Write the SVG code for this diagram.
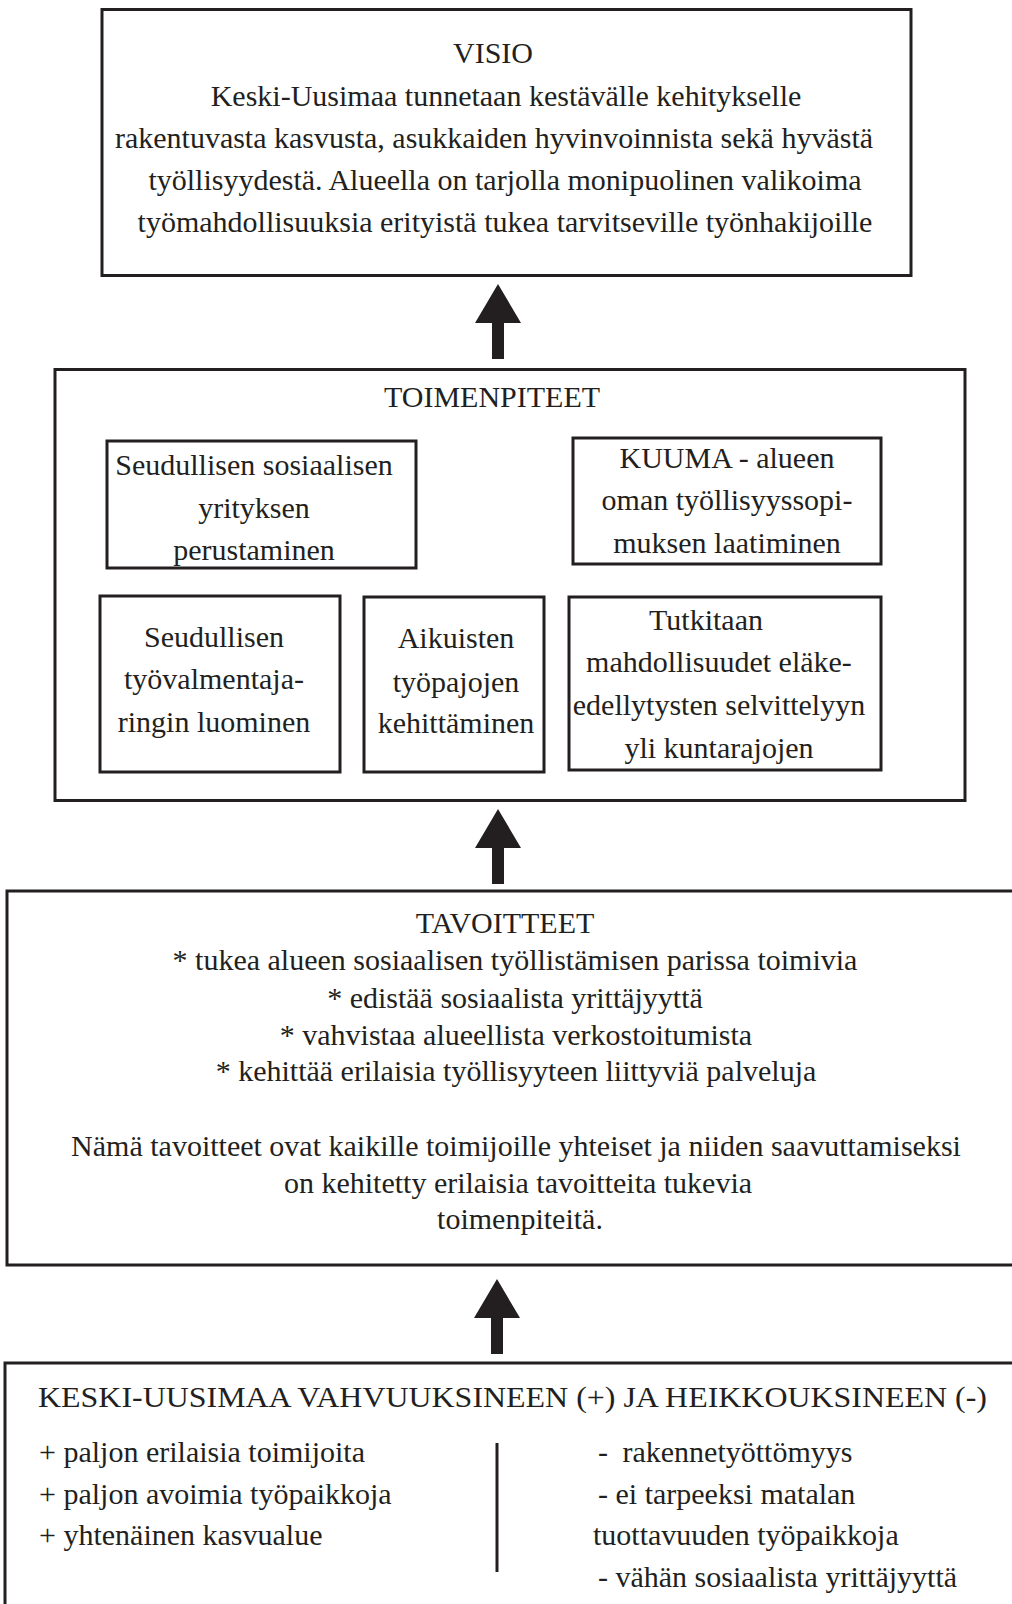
<svg xmlns="http://www.w3.org/2000/svg" xmlns:xlink="http://www.w3.org/1999/xlink" width="1012" height="1604" viewBox="0 0 1012 1604">
<defs>
<style>
.box{fill:none;stroke:#231f20;stroke-width:3}
.t{font-family:"Liberation Serif","Times New Roman",serif;font-size:30px;fill:#231f20;text-anchor:middle}
.l{font-family:"Liberation Serif","Times New Roman",serif;font-size:30px;fill:#231f20;text-anchor:start}
.arr{fill:#231f20}
</style>
<path id="arrow" d="M0,0 L23,39 L6,39 L6,75 L-6,75 L-6,39 L-23,39 Z"/>
</defs>
<rect width="1012" height="1604" fill="#fff"/>

<g id="visio">
<rect class="box" x="102" y="9.5" width="809" height="266"/>
<text class="t" x="493" y="63">VISIO</text>
<text class="t" x="506" y="106">Keski-Uusimaa tunnetaan kestävälle kehitykselle</text>
<text class="t" x="494" y="148">rakentuvasta kasvusta, asukkaiden hyvinvoinnista sekä hyvästä</text>
<text class="t" x="505" y="190">työllisyydestä. Alueella on tarjolla monipuolinen valikoima</text>
<text class="t" x="505" y="232">työmahdollisuuksia erityistä tukea tarvitseville työnhakijoille</text>
</g>

<g id="toimenpiteet">
<rect class="box" x="55" y="369.5" width="910" height="431"/>
<text class="t" x="492" y="407">TOIMENPITEET</text>
</g>

<g id="sosiaalinen-yritys">
<rect class="box" x="107" y="441" width="309" height="127"/>
<text class="t" x="254" y="475">Seudullisen sosiaalisen</text>
<text class="t" x="254" y="518">yrityksen</text>
<text class="t" x="254" y="560">perustaminen</text>
</g>

<g id="kuuma">
<rect class="box" x="573" y="438" width="308" height="126"/>
<text class="t" x="727" y="468">KUUMA - alueen</text>
<text class="t" x="727" y="510">oman työllisyyssopi-</text>
<text class="t" x="727" y="553">muksen laatiminen</text>
</g>

<g id="tyovalmentajarinki">
<rect class="box" x="100" y="596" width="240" height="176"/>
<text class="t" x="214" y="647">Seudullisen</text>
<text class="t" x="214" y="689">työvalmentaja-</text>
<text class="t" x="214" y="732">ringin luominen</text>
</g>

<g id="tyopajat">
<rect class="box" x="364" y="597" width="180" height="175"/>
<text class="t" x="456" y="648">Aikuisten</text>
<text class="t" x="456" y="692">työpajojen</text>
<text class="t" x="456" y="733">kehittäminen</text>
</g>

<g id="elake">
<rect class="box" x="569" y="597" width="312" height="173"/>
<text class="t" x="706" y="630">Tutkitaan</text>
<text class="t" x="719" y="672">mahdollisuudet eläke-</text>
<text class="t" x="719" y="715">edellytysten selvittelyyn</text>
<text class="t" x="719" y="758">yli kuntarajojen</text>
</g>

<g id="tavoitteet">
<path class="box" d="M1014,891 H7 V1265 H1014"/>
<text class="t" x="505" y="933">TAVOITTEET</text>
<text class="t" x="515" y="970">* tukea alueen sosiaalisen työllistämisen parissa toimivia</text>
<text class="t" x="515" y="1008">* edistää sosiaalista yrittäjyyttä</text>
<text class="t" x="516" y="1045">* vahvistaa alueellista verkostoitumista</text>
<text class="t" x="516" y="1081">* kehittää erilaisia työllisyyteen liittyviä palveluja</text>
<text class="t" x="516" y="1156">Nämä tavoitteet ovat kaikille toimijoille yhteiset ja niiden saavuttamiseksi</text>
<text class="t" x="518" y="1193">on kehitetty erilaisia tavoitteita tukevia</text>
<text class="t" x="520" y="1229">toimenpiteitä.</text>
</g>

<g id="keski-uusimaa">
<path class="box" d="M1014,1363 H5 V1606"/>
<text class="l" x="38" y="1407" textLength="949" lengthAdjust="spacingAndGlyphs">KESKI-UUSIMAA VAHVUUKSINEEN (+) JA HEIKKOUKSINEEN (-)</text>
<text class="l" x="39" y="1462">+ paljon erilaisia toimijoita</text>
<text class="l" x="39" y="1504">+ paljon avoimia työpaikkoja</text>
<text class="l" x="39" y="1545">+ yhtenäinen kasvualue</text>
<line x1="497" y1="1443" x2="497" y2="1572" stroke="#231f20" stroke-width="3"/>
<text class="l" x="598" y="1462">- <tspan dx="7">rakennetyöttömyys</tspan></text>
<text class="l" x="598" y="1504">- ei tarpeeksi matalan</text>
<text class="l" x="593" y="1545">tuottavuuden työpaikkoja</text>
<text class="l" x="598" y="1587">- vähän sosiaalista yrittäjyyttä</text>
</g>

<g id="connectors">
<use xlink:href="#arrow" class="arr" transform="translate(498,284)"/>
<use xlink:href="#arrow" class="arr" transform="translate(498,809)"/>
<use xlink:href="#arrow" class="arr" transform="translate(497,1279)"/>
</g>
</svg>
